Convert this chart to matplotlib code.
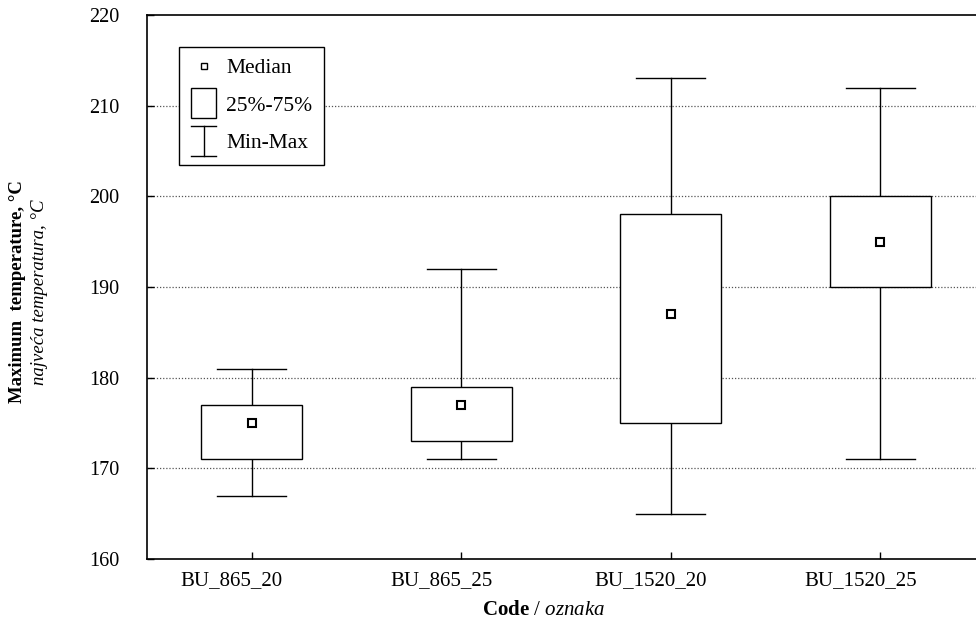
import matplotlib
matplotlib.use('Agg')
import matplotlib.pyplot as plt
import matplotlib.transforms as mtransforms
from matplotlib.patches import Rectangle
from matplotlib.lines import Line2D
from matplotlib.legend_handler import HandlerBase

plt.rcParams['font.family'] = ['Liberation Serif', 'DejaVu Serif']
plt.rcParams['mathtext.fontset'] = 'custom'
plt.rcParams['mathtext.rm'] = 'Liberation Serif'
plt.rcParams['mathtext.it'] = 'Liberation Serif:italic'
plt.rcParams['mathtext.bf'] = 'Liberation Serif:bold'

# data
codes = ['BU_865_20', 'BU_865_25', 'BU_1520_20', 'BU_1520_25']
t_min = [167, 171, 165, 171]
t_q1 = [171, 173, 175, 190]
t_med = [175, 177, 187, 195]
t_q3 = [177, 179, 198, 200]
t_max = [181, 192, 213, 212]
y_ticks = [160, 170, 180, 190, 200, 210, 220]


class HandlerBoxPatch(HandlerBase):
    def create_artists(self, legend, orig_handle, xd, yd, width, height, fontsize, trans):
        w = width * 0.95
        r = Rectangle((xd + (width - w) / 2, yd - 0.5 * height), w, height * 2.0,
                      facecolor='white', edgecolor='black', lw=1.0, transform=trans)
        return [r]


class HandlerMinMax(HandlerBase):
    def create_artists(self, legend, orig_handle, xd, yd, width, height, fontsize, trans):
        cx = xd + width / 2
        y0 = yd - 0.55 * height
        y1 = yd + 1.45 * height
        cw = width * 0.95
        v = Line2D([cx, cx], [y0, y1], color='black', lw=1.0, transform=trans)
        c1 = Line2D([cx - cw / 2, cx + cw / 2], [y0, y0], color='black', lw=1.0, transform=trans)
        c2 = Line2D([cx - cw / 2, cx + cw / 2], [y1, y1], color='black', lw=1.0, transform=trans)
        return [v, c1, c2]


fig = plt.figure(figsize=(9.76, 6.28), dpi=100)
ax = fig.add_axes([147 / 976, 69 / 628, 838 / 976, 544 / 628])

box_w = 0.48
cap_w = 0.33
for i in range(len(codes)):
    # whiskers
    ax.plot([i, i], [t_min[i], t_q1[i]], color='black', lw=1.0, zorder=2)
    ax.plot([i, i], [t_q3[i], t_max[i]], color='black', lw=1.0, zorder=2)
    ax.plot([i - cap_w / 2, i + cap_w / 2], [t_min[i], t_min[i]], color='black', lw=1.0, zorder=2)
    ax.plot([i - cap_w / 2, i + cap_w / 2], [t_max[i], t_max[i]], color='black', lw=1.0, zorder=2)
    # box
    ax.add_patch(Rectangle((i - box_w / 2, t_q1[i]), box_w, t_q3[i] - t_q1[i],
                           facecolor='white', edgecolor='black', lw=1.0, zorder=3))
ax.plot(range(len(codes)), t_med, linestyle='none', marker='s', markersize=6,
        markerfacecolor='white', markeredgecolor='black', markeredgewidth=1.5, zorder=4)

ax.set_xlim(-0.5, 3.5)
ax.set_ylim(160, 220)
ax.set_xticks(range(len(codes)))
ax.set_xticklabels(codes)
ax.set_yticks(y_ticks)
ax.tick_params(direction='in', length=5, width=1, labelsize=14.5)
ax.tick_params(axis='x', pad=9, labelsize=15)
ax.tick_params(axis='y', pad=20)
ax.spines['right'].set_visible(False)
for s in ['left', 'bottom', 'top']:
    ax.spines[s].set_linewidth(1.2)

# category labels sit a bit left of the boxes in the original
shift = mtransforms.ScaledTranslation(-20 / 100, 0, fig.dpi_scale_trans)
for lbl in ax.get_xticklabels():
    lbl.set_transform(lbl.get_transform() + shift)

for y in y_ticks[1:-1]:
    ax.axhline(y, color='#555555', lw=0.9, linestyle=(0, (1, 1.5)), zorder=1)

fig.text(543 / 976, 0.028, r'$\mathbf{Code}$ / $\mathit{oznaka}$',
         ha='center', va='center', fontsize=15)
fig.text(18 / 976, 1 - 292 / 628, 'Maximum  temperature, °C', rotation=90,
         ha='center', va='center', fontsize=13.5, fontweight='bold')
fig.text(40 / 976, 1 - 292 / 628, 'najveća temperatura, °C', rotation=90,
         ha='center', va='center', fontsize=13.5, fontstyle='italic')

h_med = Line2D([], [], linestyle='none', marker='s', markersize=5,
               markerfacecolor='white', markeredgecolor='black', markeredgewidth=1.0)
h_box = Rectangle((0, 0), 1, 1)
h_mm = Line2D([], [])
leg = ax.legend([h_med, h_box, h_mm], ['Median', '25%-75%', 'Min-Max'],
                loc='upper left', bbox_to_anchor=(0.038, 0.942), fontsize=15.5,
                handler_map={Rectangle: HandlerBoxPatch(), h_mm: HandlerMinMax()},
                frameon=True, fancybox=False, edgecolor='black', framealpha=1,
                handlelength=1.2, handletextpad=0.45, labelspacing=0.8,
                borderpad=0.55, borderaxespad=0)
leg.get_frame().set_linewidth(1.0)
leg.set_zorder(5)

fig.savefig('out.png', dpi=100)
